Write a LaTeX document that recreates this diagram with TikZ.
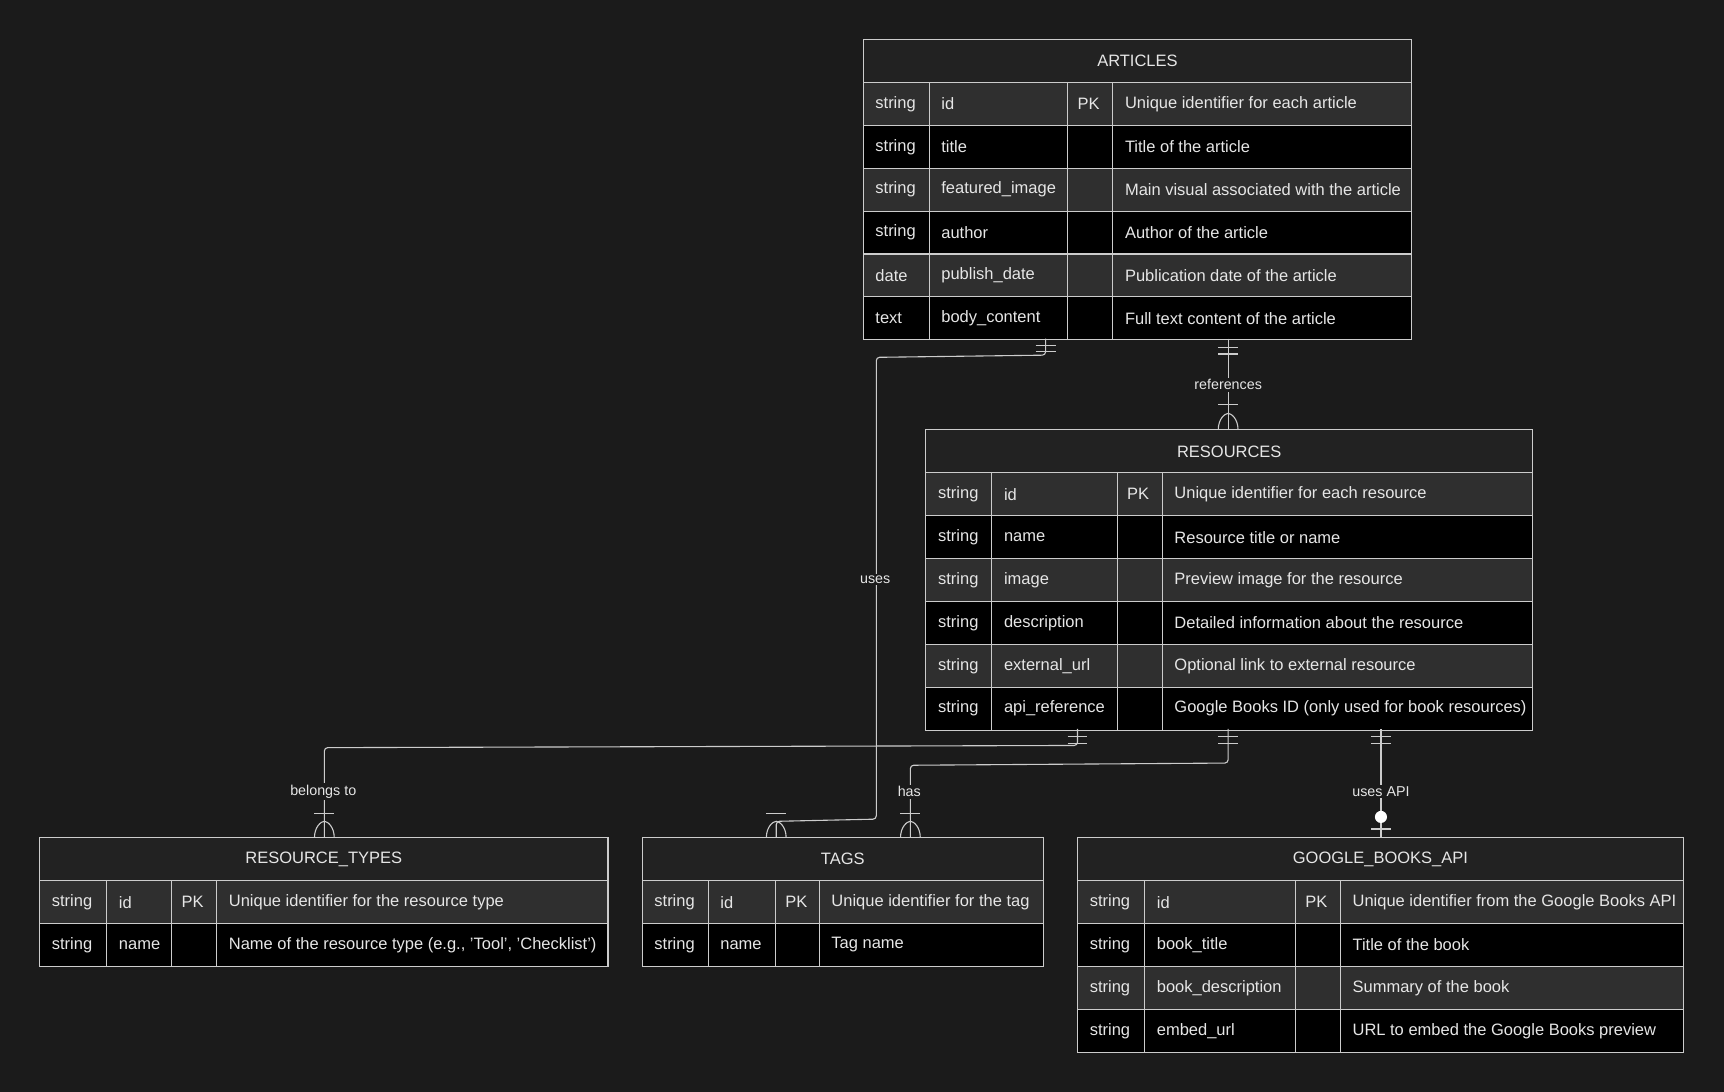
\documentclass[tikz,border=0pt]{standalone}
\usepackage{fontspec}
\setmainfont{Liberation Sans}
\definecolor{bg}{HTML}{1B1B1B}
\definecolor{hdrc}{HTML}{222222}
\definecolor{rowA}{HTML}{2F2F2F}
\definecolor{rowB}{HTML}{000000}
\definecolor{ln}{HTML}{CCCCCC}
\definecolor{tx}{HTML}{E6E6E6}
\tikzset{
  txt/.style={text=tx,font=\fontsize{15}{17}\selectfont,anchor=west,inner sep=0},
  ttl/.style={text=tx,font=\fontsize{15}{17}\selectfont,inner sep=0},
  grid/.style={draw=ln,line width=1pt},
  rel/.style={draw=ln,line width=1pt,rounded corners=3pt},
  lbl/.style={text=tx,font=\fontsize{13}{15}\selectfont,fill=bg,inner sep=1.5pt},
}
\newcommand\etab[9]{%
  \fill[hdrc] (#2,#7) rectangle (#6,#7+39);
  \draw[grid] (#2,#7) rectangle (#6,#7+39);
  \node[ttl] (#1) at ({(#2+#6)/2},#7+19.5) {#8};
  \foreach \ty/\nm/\pk/\ds [count=\i] in {#9}{
    \pgfmathsetmacro\ya{#7+39*\i}
    \pgfmathsetmacro\yb{\ya+39}
    \ifodd\i \def\rc{rowA}\else\def\rc{rowB}\fi
    \fill[\rc] (#2,\ya) rectangle (#6,\yb);
    \draw[grid] (#2,\ya) rectangle (#6,\yb);
    \draw[grid] (#3,\ya) -- (#3,\yb) (#4,\ya) -- (#4,\yb) (#5,\ya) -- (#5,\yb);
    \node[txt] at (#2+11,\ya+19.5) {\ty};
    \node[txt] at (#3+11,\ya+19.5) {\nm};
    \node[txt] at (#4+9,\ya+19.5) {\pk};
    \node[txt] at (#5+11,\ya+19.5) {\ds};
  }}
\newcommand\ebar[2]{\draw[grid] (#1-9,#2) -- (#1+9,#2);}
\newcommand\efoot[2]{\draw[grid] (#1-9,#2) .. controls (#1-9,#2-10) and (#1-3,#2-15) .. (#1,#2-15) .. controls (#1+3,#2-15) and (#1+9,#2-10) .. (#1+9,#2);}
\begin{document}
\begin{tikzpicture}[x=1pt,y=-1pt]
\fill[bg] (0,0) rectangle (1568,993);
\useasboundingbox (0,0) rectangle (1568,993);

\etab{art}{785}{845}{971}{1012}{1284}{36}{ARTICLES}{
 string/id/PK/Unique identifier for each article,
 string/title//Title of the article,
 string/featured\_image//Main visual associated with the article,
 string/author//Author of the article,
 date/publish\_date//Publication date of the article,
 text/body\_content//Full text content of the article}
\etab{res}{842}{902}{1016}{1057}{1394}{391}{RESOURCES}{
 string/id/PK/Unique identifier for each resource,
 string/name//Resource title or name,
 string/image//Preview image for the resource,
 string/description//Detailed information about the resource,
 string/external\_url//Optional link to external resource,
 string/api\_reference//Google Books ID (only used for book resources)}
\etab{rt}{36}{97}{156}{197}{553}{762}{RESOURCE\_TYPES}{
 string/id/PK/Unique identifier for the resource type,
 string/name//{Name of the resource type (e.g., 'Tool', 'Checklist')}}
\etab{tags}{584}{644}{705}{745}{949}{762}{TAGS}{
 string/id/PK/Unique identifier for the tag,
 string/name//Tag name}
\etab{gb}{980}{1041}{1178}{1219}{1531}{762}{GOOGLE\_BOOKS\_API}{
 string/id/PK/Unique identifier from the Google Books API,
 string/book\_title//Title of the book,
 string/book\_description//Summary of the book,
 string/embed\_url//URL to embed the Google Books preview}

% connector end points
\coordinate (a1) at (951,308); \coordinate (a2) at (1117,308);
\coordinate (r1) at (1117,391);
\coordinate (r2) at (980,663); \coordinate (r3) at (1117,663); \coordinate (r4) at (1256,663);
\coordinate (t1) at (706,762); \coordinate (t2) at (828,762);
\coordinate (rt1) at (295,762); \coordinate (g1) at (1256,762);

% references
\draw[rel] (a2) -- (r1);
\ebar{1117}{316}\ebar{1117}{322}\ebar{1117}{368}\efoot{1117}{391}
\node[lbl] (lref) at (1117,350) {references};
% uses
\draw[rel] (a1) -- (951,323) -- (797,325) -- (797,745) -- (706,747) -- (t1);
\ebar{951}{314}\ebar{951}{320}\ebar{706}{740}\efoot{706}{762}
\node[lbl] (luse) at (796,527) {uses};
% belongs to
\draw[rel] (r2) -- (980,678) -- (295,680) -- (rt1);
\ebar{980}{670}\ebar{980}{676}\ebar{295}{740}\efoot{295}{762}
\node[lbl] (lbel) at (294,720) {belongs to};
% has
\draw[rel] (r3) -- (1117,694) -- (828,696) -- (t2);
\ebar{1117}{670}\ebar{1117}{676}\ebar{828}{740}\efoot{828}{762}
\node[lbl] (lhas) at (827,720) {has};
% uses API
\draw[rel] (r4) -- (g1);
\ebar{1256}{670}\ebar{1256}{676}\ebar{1256}{754}
\node[lbl] (lapi) at (1256,720) {uses API};
\fill[white] (1256,743) circle (5.5);
\end{tikzpicture}
\end{document}
